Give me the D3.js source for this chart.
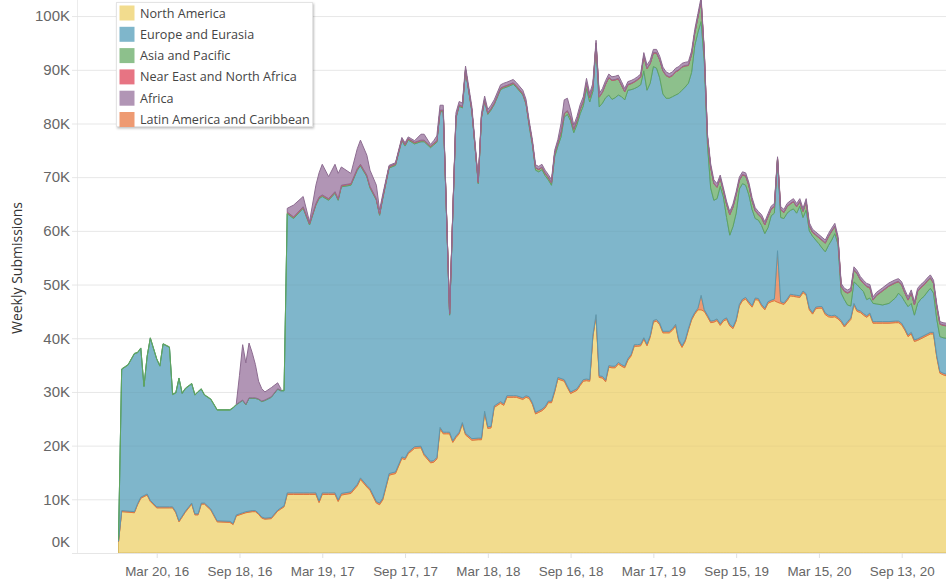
<!DOCTYPE html>
<html>
<head>
<meta charset="utf-8">
<script src="https://cdn.jsdelivr.net/npm/d3@7"></script>
<style>
body { margin: 0; background: #fff; font-family: "Open Sans", sans-serif; }
</style>
</head>
<body>
<div id="chart"></div>
<script>
////////////////////////////////////////////////////////////
////////////////////// data (thousands) ////////////////////
////////////////////////////////////////////////////////////
// week offsets from Dec 27, 2015
var weeks = [
  0,1,3,5,6,7,8,9,10,12,
  13,14,16,17,18,19,20,21,23,24,
  25,26,27,29,31,35,36,37,38,39,
  40,41,42,43,44,45,46,48,50,51,
  52,53,55,58,60,62,63,64,66,68,
  69,70,73,75,76,78,79,81,82,83,
  85,87,89,90,91,93,95,96,98,99,
  100,101,102,103,104,105,106,107,108,109,
  111,113,114,115,116,117,118,120,121,122,
  124,125,127,128,129,130,131,132,133,134,
  135,136,137,138,139,140,141,142,143,144,
  145,146,147,148,149,150,151,152,153,154,
  155,156,157,158,159,160,161,162,163,164,
  165,166,167,168,169,170,171,172,173,174,
  175,176,177,178,179,180,181,182,183,184,
  185,186,187,188,189,190,191,192,193,194,
  195,196,197,198,199,200,201,202,203,204,
  205,206,207,208,209,210,211,212,213,214,
  215,216,217,218,219,220,221,222,223,224,
  225,226,227,228,229,230,231,232,233,234,
  235,236,237,238,240,242,244,245,246,247,
  248,249,250,251,252,253,254,255,256,257,
  258,259,260,261
];

var northAmerica = [
  2.1,7.7,7.6,7.5,9.0,10.2,10.5,10.8,9.6,8.4,
  8.4,8.4,8.4,8.4,7.5,5.8,6.7,7.6,9.1,7.1,
  7.1,9.1,9.1,8.0,5.8,5.7,5.3,6.9,7.1,7.3,
  7.5,7.6,7.7,7.7,7.2,6.5,6.3,6.4,7.8,8.2,
  8.6,10.9,10.9,10.9,10.9,10.9,9.4,10.9,10.9,10.9,
  9.6,10.8,11.1,12.5,13.7,12.3,11.7,9.3,9.0,9.9,
  14.5,14.8,17.6,17.4,18.5,19.5,19.6,18.2,16.8,16.9,
  17.5,23.1,22.2,22.2,22.2,20.6,21.5,22.2,24.0,22.0,
  21.0,21.1,21.1,26.1,23.2,23.3,27.1,27.9,27.5,29.0,
  29.0,29.0,28.6,29.0,28.8,27.7,25.9,26.2,26.5,27.0,
  28.0,28.0,30.0,32.4,32.2,32.0,30.8,29.7,30.0,30.3,
  31.2,32.0,32.1,32.0,40.3,44.1,32.7,32.6,31.9,34.6,
  34.5,34.5,35.2,34.8,34.5,35.9,36.7,38.5,38.5,38.6,
  39.8,38.6,40.2,43.0,43.2,42.5,41.0,41.0,41.0,41.5,
  42.3,39.4,38.3,39.4,41.5,43.4,44.5,45.3,45.3,45.0,
  44.0,42.9,43.0,43.3,42.4,43.2,43.5,42.3,41.8,43.2,
  46.0,47.0,47.3,46.5,45.8,47.2,47.1,46.0,45.3,46.5,
  46.8,47.0,46.7,46.5,46.3,47.0,47.9,47.8,47.7,47.6,
  48.5,48.0,45.3,44.5,45.5,45.6,45.6,44.4,44.0,43.9,
  44.0,43.6,43.0,42.1,42.8,43.5,46.2,45.0,44.8,44.3,
  43.9,44.4,42.8,42.8,42.8,42.8,42.9,42.9,42.5,41.5,
  40.3,40.8,39.4,39.6,39.9,40.2,40.5,40.8,40.8,36.5,
  33.5,33.2,33.0,32.8
];

var latinAmerica = [
  0.1,0.2,0.2,0.2,0.2,0.2,0.2,0.2,0.2,0.2,
  0.2,0.2,0.2,0.2,0.2,0.2,0.2,0.2,0.2,0.2,
  0.2,0.2,0.2,0.2,0.2,0.2,0.2,0.2,0.2,0.2,
  0.2,0.2,0.2,0.2,0.2,0.2,0.2,0.2,0.2,0.2,
  0.2,0.3,0.3,0.3,0.3,0.3,0.3,0.3,0.3,0.3,
  0.3,0.3,0.3,0.3,0.3,0.3,0.3,0.3,0.3,0.3,
  0.3,0.3,0.3,0.3,0.3,0.3,0.3,0.3,0.3,0.3,
  0.3,0.3,0.3,0.3,0.3,0.3,0.3,0.3,0.3,0.3,
  0.3,0.3,0.3,0.3,0.3,0.3,0.3,0.3,0.3,0.3,
  0.3,0.3,0.3,0.3,0.3,0.3,0.3,0.3,0.3,0.3,
  0.3,0.3,0.3,0.3,0.3,0.3,0.3,0.3,0.3,0.3,
  0.3,0.3,0.3,0.3,0.3,0.3,0.3,0.3,0.3,0.3,
  0.3,0.3,0.3,0.3,0.3,0.3,0.3,0.3,0.3,0.3,
  0.3,0.3,0.3,0.3,0.3,0.3,0.3,0.3,0.3,0.3,
  0.3,0.3,0.3,0.3,0.3,0.3,0.3,0.3,2.7,0.3,
  0.3,0.3,0.3,0.3,0.3,0.3,0.3,0.3,0.3,0.3,
  0.3,0.3,0.3,0.3,0.3,0.3,0.3,0.3,0.3,0.3,
  0.3,0.3,9.6,0.3,0.3,0.3,0.3,0.3,0.3,0.3,
  0.3,0.3,0.3,0.3,0.3,0.3,0.3,0.3,0.3,0.3,
  0.3,0.3,0.3,0.3,0.3,0.3,0.3,0.3,0.3,0.3,
  0.3,0.3,0.3,0.3,0.3,0.3,0.3,0.3,0.3,0.3,
  0.3,0.3,0.3,0.3,0.3,0.3,0.3,0.3,0.3,0.3,
  0.3,0.3,0.3,0.3
];

var europe = [
  0.3,26.3,27.2,29.4,28.1,27.7,20.3,25.6,30.2,27.5,
  26.2,30.3,29.7,20.9,22.1,26.5,22.8,22.8,22.2,22.1,
  22.7,21.2,20.1,20.4,20.6,20.7,21.5,20.5,20.7,20.9,
  19.9,21.0,20.9,20.9,21.2,21.5,21.9,22.4,22.5,21.8,
  21.4,52.0,51.1,53.0,49.9,53.6,56.3,55.2,54.5,55.8,
  55.8,57.1,57.1,58.5,58.1,57.5,56.0,56.1,53.6,55.8,
  56.9,57.1,58.9,58.1,58.1,56.4,56.7,58.1,58.4,58.8,
  58.7,58.8,59.7,41.0,21.8,42.1,59.2,60.7,58.6,67.5,
  60.9,47.4,59.6,57.8,58.2,58.9,56.1,58.1,58.8,57.5,
  58.0,57.4,56.4,54.3,50.4,48.0,45.1,44.5,44.6,43.0,
  41.2,40.2,43.5,43.1,45.0,48.9,50.6,50.5,48.0,49.2,
  50.3,51.0,54.1,51.7,45.4,50.1,50.1,50.9,52.6,50.4,
  49.7,50.0,49.8,49.9,49.6,50.0,49.3,47.7,48.0,48.3,
  49.7,47.3,47.0,47.3,46.8,45.7,44.2,43.4,43.4,43.2,
  42.7,45.9,47.6,47.1,45.7,45.8,49.7,51.4,51.0,46.2,
  31.7,24.8,22.4,22.4,25.6,22.8,18.7,16.6,18.7,19.8,
  21.5,21.5,20.9,19.9,17.9,14.8,14.6,14.7,13.9,13.8,
  15.7,16.0,17.0,15.7,15.7,16.0,15.6,16.0,15.3,16.7,
  13.7,15.6,14.4,14.2,12.5,11.7,10.9,11.4,13.0,14.1,
  15.2,13.6,5.1,4.8,3.1,2.2,4.0,4.7,4.2,4.1,
  3.0,2.8,3.4,3.3,3.1,3.4,4.3,5.2,5.0,5.0,
  5.3,5.4,4.6,6.6,7.1,7.3,7.8,8.2,7.3,6.8,
  6.5,6.6,6.7,6.7
];

var asiaPacific = [
  0.1,0.1,0.1,0.1,0.1,0.1,0.1,0.1,0.1,0.1,
  0.1,0.1,0.1,0.1,0.1,0.1,0.1,0.1,0.1,0.1,
  0.1,0.1,0.1,0.1,0.1,0.1,0.1,0.1,0.1,0.1,
  0.1,0.1,0.1,0.1,0.1,0.1,0.1,0.1,0.1,0.1,
  0.1,0.2,0.2,0.2,0.2,0.2,0.2,0.2,0.2,0.2,
  0.2,0.2,0.2,0.2,0.2,0.2,0.2,0.2,0.2,0.2,
  0.2,0.2,0.2,0.2,0.2,0.2,0.2,0.2,0.2,0.2,
  0.2,0.2,0.2,0.2,0.2,0.2,0.2,0.2,0.2,0.2,
  0.2,0.2,0.2,0.2,0.2,0.2,0.2,0.2,0.2,0.2,
  0.2,0.2,0.2,0.2,0.4,0.4,0.4,0.4,0.4,0.4,
  0.4,0.4,0.6,0.5,0.9,0.6,0.6,0.6,0.6,0.7,
  0.8,0.8,1.0,0.8,0.7,0.4,1.8,2.0,2.5,3.2,
  3.5,3.3,3.0,2.1,1.5,1.0,1.1,1.2,1.3,1.4,
  2.7,4.0,3.6,2.5,2.8,3.3,4.3,4.2,3.9,3.9,
  4.3,4.3,4.3,3.9,3.3,3.3,2.3,2.8,3.8,1.6,
  1.4,3.8,3.1,2.1,1.5,1.1,2.4,3.8,3.6,3.4,
  1.6,1.6,1.7,1.7,1.6,1.4,1.0,1.4,1.6,2.0,
  1.2,1.2,0.1,1.4,1.1,1.2,1.2,1.3,1.2,0.8,
  1.1,1.5,0.9,0.7,0.9,1.1,1.4,1.6,1.6,1.6,
  1.3,0.9,1.2,1.5,2.2,2.7,2.2,2.0,1.6,1.5,
  2.4,1.9,0.6,1.5,2.6,3.2,2.8,2.1,2.1,1.6,
  1.2,1.9,1.9,2.2,2.1,2.1,2.0,1.9,1.8,2.3,
  2.3,2.3,2.3,2.4
];

var nearEast = [
  0,0,0,0,0,0,0,0,0,0,
  0,0,0,0,0,0,0,0,0,0,
  0,0,0,0,0,0,0,0,0,0,
  0,0,0,0,0,0,0,0,0,0,
  0,0.1,0.1,0.1,0.1,0.1,0.1,0.1,0.1,0.1,
  0.1,0.1,0.1,0.1,0.1,0.1,0.1,0.1,0.1,0.1,
  0.1,0.1,0.1,0.1,0.1,0.1,0.1,0.1,0.1,0.1,
  0.1,0.1,0.1,0.1,0.1,0.1,0.1,0.1,0.1,0.1,
  0.1,0.1,0.1,0.1,0.1,0.1,0.1,0.1,0.1,0.1,
  0.1,0.1,0.1,0.1,0.1,0.1,0.1,0.1,0.1,0.1,
  0.1,0.1,0.1,0.1,0.1,0.1,0.1,0.1,0.1,0.1,
  0.1,0.1,0.1,0.1,0.1,0.1,0.1,0.1,0.1,0.1,
  0.1,0.1,0.1,0.1,0.1,0.1,0.1,0.1,0.1,0.1,
  0.1,0.1,0.1,0.1,0.1,0.1,0.1,0.1,0.1,0.1,
  0.1,0.1,0.1,0.1,0.1,0.1,0.1,0.1,0.1,0.1,
  0.1,0.1,0.1,0.1,0.1,0.1,0.1,0.1,0.1,0.1,
  0.1,0.1,0.1,0.1,0.1,0.1,0.1,0.1,0.1,0.1,
  0.1,0.1,0.1,0.1,0.1,0.1,0.1,0.1,0.1,0.1,
  0.1,0.1,0.1,0.1,0.1,0.1,0.1,0.1,0.1,0.1,
  0.1,0.1,0.1,0.1,0.1,0.1,0.1,0.1,0.1,0.1,
  0.1,0.1,0.1,0.1,0.1,0.1,0.1,0.1,0.1,0.1,
  0.1,0.1,0.1,0.1,0.1,0.1,0.1,0.1,0.1,0.1,
  0.1,0.1,0.1,0.1
];

var africa = [
  0,0,0,0,0,0,0,0,0,0,
  0,0,0,0,0,0,0,0,0,0,
  0,0,0,0,0,0,0,0.1,5.0,10.3,
  7.7,10.2,8.4,6.2,3.3,2.3,1.5,1.7,1.1,0.3,
  0,0.7,2.2,1.9,0.3,3.4,4.5,5.7,4.1,5.1,
  4.7,3.4,1.9,3.7,4.5,3.7,3.0,2.5,0.7,0.5,
  0.2,0.2,0.3,0.3,0.3,0.3,1.1,1.1,0.3,0.5,
  0.9,0.9,0.9,0.3,0.2,0.3,0.7,0.6,0.6,0.6,
  0.6,0.5,0.6,0.6,0.6,0.6,0.6,0.6,0.6,0.6,
  0.6,0.6,0.6,0.6,0.5,0.5,0.5,0.5,0.5,0.5,
  0.5,0.5,0.5,0.6,1.5,2.5,2.3,1.3,0.7,0.7,
  0.8,0.8,0.8,0.7,0.7,0.5,0.6,0.6,0.6,0.6,
  0.6,0.6,0.6,0.6,0.5,0.5,0.5,0.5,0.5,0.5,
  0.6,0.6,0.6,0.6,0.6,0.6,0.6,0.6,0.6,0.6,
  0.6,0.6,0.6,0.6,0.6,0.6,0.6,0.6,0.6,0.5,
  0.5,0.6,0.6,0.6,0.5,0.5,0.5,0.5,0.5,0.5,
  0.5,0.5,0.5,0.5,0.5,0.5,0.5,0.5,0.5,0.5,
  0.5,0.5,0.3,0.5,0.5,0.5,0.5,0.5,0.5,0.5,
  0.5,0.5,0.5,0.5,0.5,0.5,0.5,0.5,0.5,0.5,
  0.5,0.5,0.5,0.5,0.5,0.5,0.5,0.5,0.5,0.5,
  0.5,0.5,0.5,0.5,0.5,0.5,0.5,0.5,0.5,0.5,
  0.5,0.5,0.5,0.5,0.5,0.5,0.5,0.5,0.5,0.5,
  0.4,0.4,0.4,0.4
];

var regions = ["North America", "Europe and Eurasia", "Asia and Pacific",
               "Near East and North Africa", "Africa", "Latin America and Caribbean"];
var yTicks = [0,10,20,30,40,50,60,70,80,90,100];
var xTicks = ["2016-03-20","2016-09-18","2017-03-19","2017-09-17","2018-03-18",
              "2018-09-16","2019-03-17","2019-09-15","2020-03-15","2020-09-13"];

////////////////////////////////////////////////////////////
////////////////////// layout / styles /////////////////////
////////////////////////////////////////////////////////////
var wdim = 946, hdim = 582;
var plotLeft = 72, plotBottom = 553;
var fills   = {"North America":"#f2dc8e", "Latin America and Caribbean":"#ee9a72",
               "Europe and Eurasia":"#7fb6cb", "Asia and Pacific":"#8dc08c",
               "Near East and North Africa":"#e77483", "Africa":"#b195b5"};
var strokes = {"North America":"#d8bb62", "Latin America and Caribbean":"#e0743f",
               "Europe and Eurasia":"#5c98ae", "Asia and Pacific":"#5ea461",
               "Near East and North Africa":"#cc5668", "Africa":"#8d6c91"};
// bottom -> top stacking order
var stackKeys = ["North America", "Latin America and Caribbean", "Europe and Eurasia",
                 "Asia and Pacific", "Near East and North Africa", "Africa"];
// regions with weeks of no submissions are left out (no mark) on those weeks
var sparseKeys = ["Near East and North Africa", "Africa"];

var start = Date.UTC(2015, 11, 27);
var rows = weeks.map(function(w, i){
  return {
    date: new Date(start + w * 7 * 864e5),
    "North America": northAmerica[i],
    "Latin America and Caribbean": latinAmerica[i],
    "Europe and Eurasia": europe[i],
    "Asia and Pacific": asiaPacific[i],
    "Near East and North Africa": nearEast[i],
    "Africa": africa[i]
  };
});

var series = d3.stack().keys(stackKeys)(rows);

var x = d3.scaleUtc()
  .domain([new Date(start), new Date("2020-09-13")])
  .range([118.5, 901.7]);
var y = d3.scaleLinear().domain([0, 103]).range([plotBottom, 0]);

var svg = d3.select("#chart").append("svg")
  .attr("width", wdim).attr("height", hdim)
  .style("font-family", "'Open Sans', sans-serif");

svg.append("clipPath").attr("id", "plotclip")
  .append("rect").attr("x", plotLeft).attr("y", 0)
  .attr("width", wdim - plotLeft).attr("height", plotBottom);

// gridlines under
svg.append("g").selectAll("line").data(yTicks).enter().append("line")
  .attr("x1", plotLeft).attr("x2", wdim)
  .attr("y1", function(d){ return y(d) + 0.5; })
  .attr("y2", function(d){ return y(d) + 0.5; })
  .attr("stroke", "#efefef").attr("stroke-width", 1);

// y axis line
svg.append("line").attr("x1", 77.5).attr("x2", 77.5).attr("y1", 0).attr("y2", plotBottom)
  .attr("stroke", "#ececec");

///////////////////////// areas //////////////////////////
function areaFor(key){
  var sparse = sparseKeys.indexOf(key) >= 0;
  return d3.area()
    .defined(function(d){ return !sparse || d.data[key] > 0; })
    .x(function(d){ return x(d.data.date); })
    .y0(function(d){ return y(d[0]); })
    .y1(function(d){ return y(d[1]); });
}

var plot = svg.append("g").attr("clip-path", "url(#plotclip)");
plot.selectAll("path.layer").data(series).enter().append("path")
  .attr("class", "layer")
  .attr("d", function(s){ return areaFor(s.key)(s); })
  .attr("fill", function(d){ return fills[d.key]; })
  .attr("stroke", function(d){ return strokes[d.key]; })
  .attr("stroke-width", 1)
  .attr("stroke-linejoin", "round");

// gridlines showing faintly through the areas
plot.append("g").selectAll("line").data(yTicks.slice(1)).enter().append("line")
  .attr("x1", plotLeft).attr("x2", wdim)
  .attr("y1", function(d){ return y(d) + 0.5; })
  .attr("y2", function(d){ return y(d) + 0.5; })
  .attr("stroke", "#000").attr("stroke-opacity", 0.035);

// x axis baseline
svg.append("line").attr("x1", plotLeft).attr("x2", wdim)
  .attr("y1", plotBottom + 0.5).attr("y2", plotBottom + 0.5)
  .attr("stroke", "#e6e6e6");

///////////////////////// axes //////////////////////////
var yAxis = svg.append("g").attr("transform", "translate(70,0)")
  .call(d3.axisLeft(y).tickValues(yTicks).tickSize(0).tickPadding(0)
        .tickFormat(function(d){ return d + "K"; }));
yAxis.select(".domain").remove();
yAxis.selectAll("text")
  .attr("fill", "#666").style("font-size", "15px")
  .attr("y", function(d){ return d === 0 ? -11 : 0; });

var fmt = d3.utcFormat("%b %d, %y");
var xAxis = svg.append("g").attr("transform", "translate(0," + plotBottom + ")")
  .call(d3.axisBottom(x).tickValues(xTicks.map(function(s){ return new Date(s); }))
        .tickSize(5).tickPadding(8).tickFormat(fmt));
xAxis.select(".domain").remove();
xAxis.selectAll("line").attr("stroke", "#e0e0e0");
xAxis.selectAll("text").attr("fill", "#666").style("font-size", "13.4px");

svg.append("text")
  .attr("transform", "translate(22,268) rotate(-90)")
  .attr("text-anchor", "middle")
  .attr("fill", "#333")
  .style("font-size", "14px")
  .text("Weekly Submissions");

///////////////////////// legend //////////////////////////
var defs = svg.append("defs");
var f = defs.append("filter").attr("id", "shadow")
  .attr("x", "-10%").attr("y", "-10%").attr("width", "130%").attr("height", "130%");
f.append("feDropShadow").attr("dx", 1).attr("dy", 1.5).attr("stdDeviation", 1.2)
  .attr("flood-color", "#000").attr("flood-opacity", 0.25);

var legend = svg.append("g");
legend.append("rect")
  .attr("x", 116.5).attr("y", 2.5).attr("width", 196).attr("height", 124)
  .attr("fill", "#fff").attr("stroke", "#e4e4e4")
  .attr("filter", "url(#shadow)");

var item = legend.selectAll("g.item").data(regions).enter().append("g")
  .attr("class", "item")
  .attr("transform", function(d, i){ return "translate(119.5," + (5.5 + i * 21.3) + ")"; });
item.append("rect").attr("width", 15).attr("height", 15)
  .attr("fill", function(d){ return fills[d]; });
item.append("text").attr("x", 20.5).attr("y", 12)
  .attr("fill", "#444").style("font-size", "12.6px")
  .text(function(d){ return d; });
</script>
</body>
</html>
